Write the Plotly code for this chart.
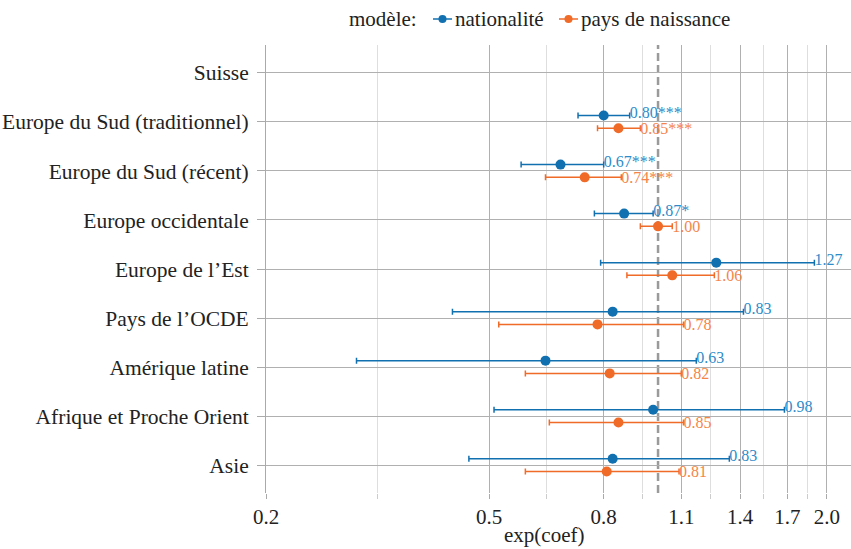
import math
import plotly.graph_objects as go

# ---------------- data ----------------
categories = ["Suisse", "Europe du Sud (traditionnel)", "Europe du Sud (récent)",
              "Europe occidentale", "Europe de l’Est", "Pays de l’OCDE",
              "Amérique latine", "Afrique et Proche Orient", "Asie"]

nat_est = [None, 0.80, 0.67, 0.87, 1.27, 0.83, 0.63, 0.98, 0.83]
nat_lo  = [None, 0.72, 0.57, 0.77, 0.79, 0.43, 0.29, 0.51, 0.46]
nat_hi  = [None, 0.89, 0.80, 0.98, 1.90, 1.42, 1.17, 1.68, 1.34]
nat_sig = ["", "***", "***", "*", "", "", "", "", ""]

nais_est = [None, 0.85, 0.74, 1.00, 1.06, 0.78, 0.82, 0.85, 0.81]
nais_lo  = [None, 0.78, 0.63, 0.93, 0.88, 0.52, 0.58, 0.64, 0.58]
nais_hi  = [None, 0.93, 0.86, 1.06, 1.26, 1.11, 1.10, 1.11, 1.09]
nais_sig = ["", "***", "***", "", "", "", "", "", ""]

x_ticks = [0.2, 0.5, 0.8, 1.1, 1.4, 1.7, 2.0]
x_ticktext = ["0.2", "0.5", "0.8", "1.1", "1.4", "1.7", "2.0"]
x_minor = [math.sqrt(a * b) for a, b in zip(x_ticks[:-1], x_ticks[1:])]

series = [
    ("nationalité", nat_est, nat_lo, nat_hi, nat_sig, "#1170b0", "#2e8cc9", -0.13),
    ("pays de naissance", nais_est, nais_lo, nais_hi, nais_sig, "#f06a28", "#f5844a", 0.13),
]

FONT = "Liberation Serif"
W, H = 851, 549
# plot area in page pixels (body margin removed below)
PL, PR, PT, PB = 266, 851, 45, 493
ML, MT = PL, PT
MR = W - PR
MB = H - PB
PW, PH = PR - PL, PB - PT

def px(xp):
    return (xp - PL) / PW

def py(yp):
    return (PB - yp) / PH

fig = go.Figure()

for name, est, lo, hi, sig, col, tcol, off in series:
    idx = [i for i, v in enumerate(est) if v is not None]
    ys = [i + off for i in idx]
    xs = [est[i] for i in idx]
    fig.add_trace(go.Scatter(
        x=xs, y=ys, mode="markers", name=name, showlegend=False,
        marker=dict(color=col, size=10),
        error_x=dict(type="data", symmetric=False,
                     array=[hi[i] - est[i] for i in idx],
                     arrayminus=[est[i] - lo[i] for i in idx],
                     color=col, thickness=1.5, width=3),
        hoverinfo="skip",
    ))
    fig.add_trace(go.Scatter(
        x=[hi[i] for i in idx], y=[i + off * 1.3 for i in idx], mode="text",
        text=[f"{est[i]:.2f}{sig[i]}" for i in idx],
        textposition="middle right", showlegend=False,
        textfont=dict(family=FONT, size=16, color=tcol),
        hoverinfo="skip",
    ))

# reference line at 1
fig.add_shape(type="line", xref="x", yref="paper", x0=1, x1=1, y0=0, y1=1,
              line=dict(color="#9a9a9a", width=2.5, dash="8px,4px"), layer="below")

# manual legend
leg_y = py(19)
fig.add_annotation(x=px(347), y=leg_y, xref="paper", yref="paper", text="modèle:",
                   showarrow=False, xanchor="left", yanchor="middle",
                   font=dict(family=FONT, size=21, color="#222"))
for (name, *_rest), x0 in zip(series, [433, 559]):
    col = _rest[4]
    fig.add_shape(type="line", xref="paper", yref="paper", x0=px(x0), x1=px(x0 + 19),
                  y0=leg_y, y1=leg_y, line=dict(color=col, width=1.5))
    fig.add_shape(type="circle", xref="paper", yref="paper", xsizemode="pixel",
                  ysizemode="pixel", xanchor=px(x0 + 9.5), yanchor=leg_y,
                  x0=-4, x1=4, y0=-4, y1=4, fillcolor=col, line=dict(color=col, width=0))
    fig.add_annotation(x=px(x0 + 20), y=leg_y, xref="paper", yref="paper", text=name,
                       showarrow=False, xanchor="left", yanchor="middle",
                       font=dict(family=FONT, size=21, color="#222"))

# x axis title
fig.add_annotation(x=px(544), y=py(535), xref="paper", yref="paper", text="exp(coef)",
                   showarrow=False, xanchor="center", yanchor="middle",
                   font=dict(family=FONT, size=21, color="#222"))

fig.update_layout(
    width=W, height=H,
    margin=dict(l=ML, r=MR, t=MT, b=MB, pad=0),
    paper_bgcolor="white", plot_bgcolor="white",
    font=dict(family=FONT, size=21, color="#222"),
    showlegend=False,
    xaxis=dict(
        type="log", range=[math.log10(0.2), 0.344], automargin=False,
        tickmode="array", tickvals=x_ticks, ticktext=x_ticktext,
        ticks="outside", ticklen=5, tickcolor="#aaaaaa",
        showgrid=True, gridcolor="#b0b0b0", gridwidth=1,
        minor=dict(tickmode="array", tickvals=x_minor, showgrid=True,
                   gridcolor="#dedede", gridwidth=1, ticks="outside",
                   ticklen=5, tickcolor="#cccccc"),
        showline=False, zeroline=False,
        tickfont=dict(family=FONT, size=21, color="#222"),
    ),
    yaxis=dict(
        tickmode="array", tickvals=list(range(len(categories))), ticktext=categories,
        range=[len(categories) - 1 + 0.57, -0.57], automargin=False,
        ticks="outside", ticklen=8, tickcolor="#aaaaaa",
        ticklabelstandoff=4,
        showgrid=True, gridcolor="#b0b0b0", gridwidth=1,
        showline=True, linecolor="#aaaaaa", linewidth=1,
        zeroline=False,
        tickfont=dict(family=FONT, size=21.5, color="#222"),
    ),
)

fig.write_html("out.html", config={"displayModeBar": False},
               post_script="document.body.style.margin='0';")
